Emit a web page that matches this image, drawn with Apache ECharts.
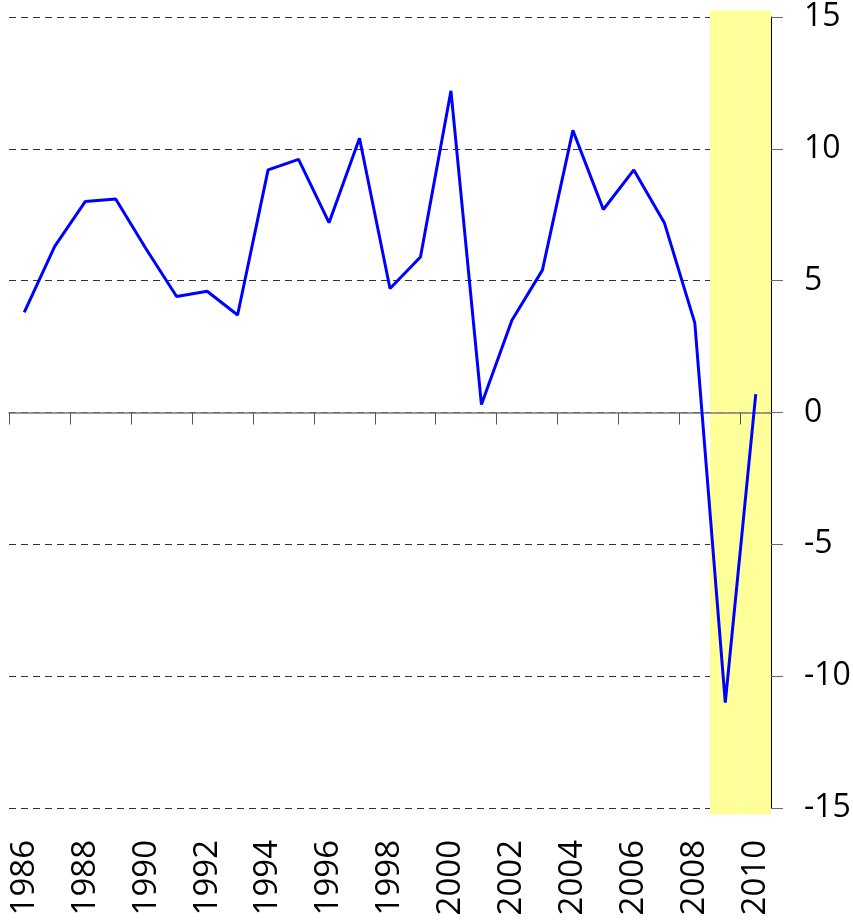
<!DOCTYPE html>
<html>
<head>
<meta charset="utf-8">
<title>Growth 1986-2010</title>
<script src="https://cdn.jsdelivr.net/npm/echarts@6/dist/echarts.min.js"></script>
<style>
  html, body { margin: 0; padding: 0; background: #fff; }
  #chart { width: 853px; height: 920px; }
</style>
</head>
<body>
<div id="chart"></div>
<script>
// years on the category axis
const years = ['1986', '1987', '1988', '1989', '1990', '1991', '1992', '1993', '1994', '1995',
  '1996', '1997', '1998', '1999', '2000', '2001', '2002', '2003', '2004', '2005',
  '2006', '2007', '2008', '2009', '2010'];
// values
const growth = [3.8, 6.3, 8.0, 8.1, 6.2, 4.4, 4.6, 3.7, 9.2, 9.6,
  7.2, 10.4, 4.7, 5.9, 12.2, 0.3, 3.5, 5.4, 10.7, 7.7,
  9.2, 7.2, 3.4, -11.0, 0.7];
// shaded (recession) years and the extent of the shading
const shadedYears = ['2009', '2010'];
const bandTop = 15.25;
const bandBottom = -15.25;
const yTicks = { min: -15, max: 15, interval: 5 };

const chart = echarts.init(document.getElementById('chart'));
const font = 'Open Sans';

const bandUp = years.map(y => (shadedYears.includes(y) ? bandTop : null));
const bandDown = years.map(y => (shadedYears.includes(y) ? bandBottom : null));

const option = {
  animation: false,
  grid: {
    left: 9, right: 82, top: 17, bottom: 112,
    containLabel: false,
    outerBoundsMode: 'none'
  },
  xAxis: [
    {
      // the zero line with its ticks
      type: 'category',
      data: years,
      boundaryGap: true,
      axisLine: { onZero: true, lineStyle: { color: '#7a7a7a', width: 1.5 } },
      axisTick: { show: true, interval: 1, length: 12, lineStyle: { color: '#555' } },
      axisLabel: { interval: 1, fontSize: 8, color: 'rgba(0,0,0,0)' },
      splitLine: { show: false }
    },
    {
      // year labels at the bottom of the plot
      type: 'category',
      data: years,
      position: 'bottom',
      axisLine: { show: false, onZero: false },
      axisTick: { show: false },
      axisLabel: {
        interval: 1,
        rotate: 90,
        margin: 32,
        fontFamily: font,
        fontSize: 33,
        color: '#000'
      }
    }
  ],
  yAxis: [
    {
      type: 'value',
      position: 'right',
      min: yTicks.min,
      max: yTicks.max,
      interval: yTicks.interval,
      z: 5,
      axisLine: { show: true, lineStyle: { color: '#000', width: 1 } },
      axisTick: { show: true, length: 12, lineStyle: { color: '#666' } },
      axisLabel: { margin: 33, fontFamily: font, fontSize: 32, color: '#000' },
      splitLine: { show: false }
    },
    {
      // dashed gridlines, kept under the shading
      type: 'value',
      position: 'right',
      min: yTicks.min,
      max: yTicks.max,
      interval: yTicks.interval,
      z: -2,
      axisLine: { show: false },
      axisTick: { show: false },
      axisLabel: { show: false },
      splitLine: { show: true, lineStyle: { color: '#333', type: [7, 5], width: 1 } }
    }
  ],
  series: [
    {
      type: 'bar',
      stack: 'band',
      data: bandUp,
      barWidth: '100%',
      barGap: '-100%',
      clip: false,
      z: -1,
      silent: true,
      itemStyle: { color: '#ffff99' }
    },
    {
      type: 'bar',
      stack: 'band',
      data: bandDown,
      barWidth: '100%',
      barGap: '-100%',
      clip: false,
      z: -1,
      silent: true,
      itemStyle: { color: '#ffff99' }
    },
    {
      type: 'line',
      data: growth,
      showSymbol: false,
      symbol: 'none',
      lineStyle: { color: '#0000ff', width: 3 },
      z: 3
    }
  ]
};

chart.setOption(option);
</script>
</body>
</html>
